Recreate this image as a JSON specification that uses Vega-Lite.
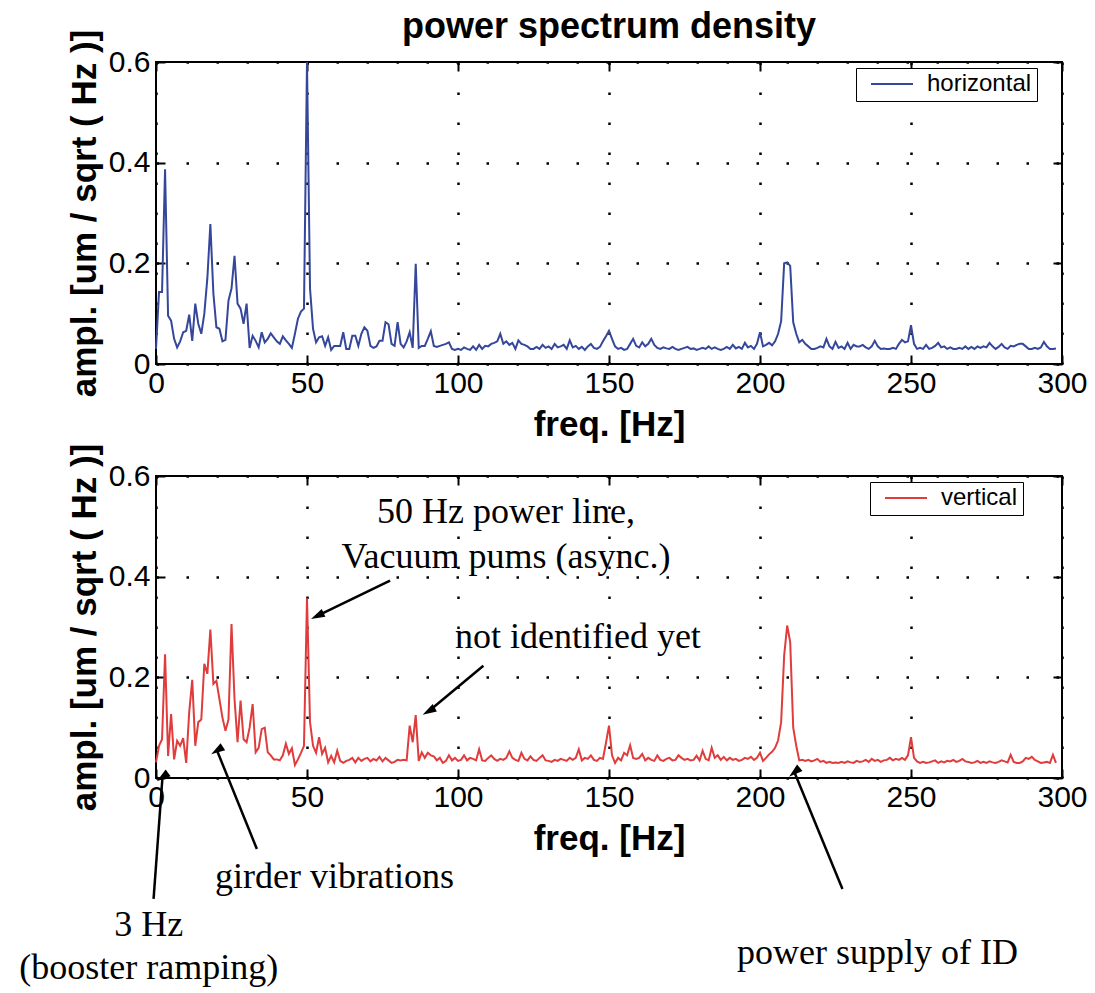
{
"$schema": "https://vega.github.io/schema/vega-lite/v6.json",
"autosize": {"type": "pad"},
"padding": {"left": 18, "top": 8, "right": 10, "bottom": 5},
"background": "white",
"config": {
 "view": {"stroke": "black", "strokeWidth": 2},
 "font": "Liberation Sans",
 "axis": {"domain": false, "tickColor": "black", "tickWidth": 2, "tickSize": -9, "grid": true, "gridColor": "black", "gridOpacity": 1, "gridDash": [2.5, 27.5], "gridWidth": 2.5, "labelFont": "Liberation Sans", "labelFontSize": 30, "labelColor": "black", "labelFlush": false, "titleFont": "Liberation Sans", "titleFontSize": 35, "titleFontWeight": "bold", "titleColor": "black"}
},
"datasets": {
"h": [
{"f":0,"a":0.03},{"f":1,"a":0.143},{"f":2,"a":0.143},{"f":3,"a":0.387},{"f":4,"a":0.096},{"f":5,"a":0.086},{"f":6,"a":0.05},{"f":7,"a":0.033},{"f":8,"a":0.045},{"f":9,"a":0.063},
{"f":10,"a":0.066},{"f":11,"a":0.098},{"f":12,"a":0.046},{"f":13,"a":0.12},{"f":14,"a":0.08},{"f":15,"a":0.06},{"f":16,"a":0.1},{"f":17,"a":0.17},{"f":18,"a":0.278},{"f":19,"a":0.14},
{"f":20,"a":0.073},{"f":21,"a":0.07},{"f":22,"a":0.045},{"f":23,"a":0.048},{"f":24,"a":0.126},{"f":25,"a":0.15},{"f":26,"a":0.215},{"f":27,"a":0.12},{"f":28,"a":0.11},{"f":29,"a":0.08},
{"f":30,"a":0.12},{"f":31,"a":0.032},{"f":32,"a":0.056},{"f":33,"a":0.046},{"f":34,"a":0.033},{"f":35,"a":0.063},{"f":36,"a":0.043},{"f":37,"a":0.05},{"f":38,"a":0.061},{"f":39,"a":0.053},
{"f":40,"a":0.045},{"f":41,"a":0.04},{"f":42,"a":0.055},{"f":43,"a":0.047},{"f":44,"a":0.04},{"f":45,"a":0.032},{"f":46,"a":0.06},{"f":47,"a":0.09},{"f":48,"a":0.104},{"f":49,"a":0.11},
{"f":50,"a":0.6},{"f":51,"a":0.15},{"f":52,"a":0.07},{"f":53,"a":0.043},{"f":54,"a":0.053},{"f":55,"a":0.055},{"f":56,"a":0.036},{"f":57,"a":0.053},{"f":58,"a":0.028},{"f":59,"a":0.036},
{"f":60,"a":0.036},{"f":61,"a":0.036},{"f":62,"a":0.063},{"f":63,"a":0.03},{"f":64,"a":0.03},{"f":65,"a":0.056},{"f":66,"a":0.056},{"f":67,"a":0.036},{"f":68,"a":0.06},{"f":69,"a":0.073},
{"f":70,"a":0.066},{"f":71,"a":0.036},{"f":72,"a":0.032},{"f":73,"a":0.035},{"f":74,"a":0.046},{"f":75,"a":0.046},{"f":76,"a":0.083},{"f":77,"a":0.079},{"f":78,"a":0.04},{"f":79,"a":0.036},
{"f":80,"a":0.083},{"f":81,"a":0.04},{"f":82,"a":0.033},{"f":83,"a":0.045},{"f":84,"a":0.063},{"f":85,"a":0.032},{"f":86,"a":0.199},{"f":87,"a":0.032},{"f":88,"a":0.036},{"f":89,"a":0.036},
{"f":90,"a":0.05},{"f":91,"a":0.065},{"f":92,"a":0.036},{"f":93,"a":0.034},{"f":94,"a":0.036},{"f":95,"a":0.038},{"f":96,"a":0.04},{"f":97,"a":0.043},{"f":98,"a":0.03},{"f":99,"a":0.028},
{"f":100,"a":0.03},{"f":101,"a":0.028},{"f":102,"a":0.033},{"f":103,"a":0.03},{"f":104,"a":0.028},{"f":105,"a":0.035},{"f":106,"a":0.028},{"f":107,"a":0.038},{"f":108,"a":0.03},{"f":109,"a":0.036},
{"f":110,"a":0.035},{"f":111,"a":0.04},{"f":112,"a":0.042},{"f":113,"a":0.045},{"f":114,"a":0.06},{"f":115,"a":0.04},{"f":116,"a":0.045},{"f":117,"a":0.038},{"f":118,"a":0.042},{"f":119,"a":0.03},
{"f":120,"a":0.047},{"f":121,"a":0.04},{"f":122,"a":0.038},{"f":123,"a":0.035},{"f":124,"a":0.03},{"f":125,"a":0.03},{"f":126,"a":0.034},{"f":127,"a":0.03},{"f":128,"a":0.038},{"f":129,"a":0.032},
{"f":130,"a":0.035},{"f":131,"a":0.03},{"f":132,"a":0.04},{"f":133,"a":0.033},{"f":134,"a":0.035},{"f":135,"a":0.038},{"f":136,"a":0.03},{"f":137,"a":0.047},{"f":138,"a":0.033},{"f":139,"a":0.036},
{"f":140,"a":0.03},{"f":141,"a":0.034},{"f":142,"a":0.028},{"f":143,"a":0.035},{"f":144,"a":0.04},{"f":145,"a":0.032},{"f":146,"a":0.03},{"f":147,"a":0.034},{"f":148,"a":0.045},{"f":149,"a":0.055},
{"f":150,"a":0.066},{"f":151,"a":0.05},{"f":152,"a":0.035},{"f":153,"a":0.03},{"f":154,"a":0.032},{"f":155,"a":0.028},{"f":156,"a":0.03},{"f":157,"a":0.04},{"f":158,"a":0.05},{"f":159,"a":0.036},
{"f":160,"a":0.033},{"f":161,"a":0.043},{"f":162,"a":0.035},{"f":163,"a":0.04},{"f":164,"a":0.05},{"f":165,"a":0.038},{"f":166,"a":0.032},{"f":167,"a":0.03},{"f":168,"a":0.033},{"f":169,"a":0.031},
{"f":170,"a":0.03},{"f":171,"a":0.034},{"f":172,"a":0.03},{"f":173,"a":0.028},{"f":174,"a":0.03},{"f":175,"a":0.032},{"f":176,"a":0.034},{"f":177,"a":0.03},{"f":178,"a":0.031},{"f":179,"a":0.028},
{"f":180,"a":0.03},{"f":181,"a":0.032},{"f":182,"a":0.03},{"f":183,"a":0.035},{"f":184,"a":0.03},{"f":185,"a":0.033},{"f":186,"a":0.03},{"f":187,"a":0.028},{"f":188,"a":0.03},{"f":189,"a":0.034},
{"f":190,"a":0.03},{"f":191,"a":0.038},{"f":192,"a":0.031},{"f":193,"a":0.034},{"f":194,"a":0.03},{"f":195,"a":0.042},{"f":196,"a":0.033},{"f":197,"a":0.036},{"f":198,"a":0.03},{"f":199,"a":0.04},
{"f":200,"a":0.063},{"f":201,"a":0.035},{"f":202,"a":0.038},{"f":203,"a":0.042},{"f":204,"a":0.037},{"f":205,"a":0.045},{"f":206,"a":0.06},{"f":207,"a":0.085},{"f":208,"a":0.2},{"f":209,"a":0.202},
{"f":210,"a":0.195},{"f":211,"a":0.083},{"f":212,"a":0.06},{"f":213,"a":0.043},{"f":214,"a":0.048},{"f":215,"a":0.04},{"f":216,"a":0.035},{"f":217,"a":0.03},{"f":218,"a":0.03},{"f":219,"a":0.032},
{"f":220,"a":0.035},{"f":221,"a":0.033},{"f":222,"a":0.05},{"f":223,"a":0.035},{"f":224,"a":0.03},{"f":225,"a":0.044},{"f":226,"a":0.032},{"f":227,"a":0.035},{"f":228,"a":0.03},{"f":229,"a":0.042},
{"f":230,"a":0.03},{"f":231,"a":0.038},{"f":232,"a":0.035},{"f":233,"a":0.035},{"f":234,"a":0.038},{"f":235,"a":0.033},{"f":236,"a":0.03},{"f":237,"a":0.035},{"f":238,"a":0.046},{"f":239,"a":0.035},
{"f":240,"a":0.03},{"f":241,"a":0.031},{"f":242,"a":0.03},{"f":243,"a":0.03},{"f":244,"a":0.032},{"f":245,"a":0.03},{"f":246,"a":0.04},{"f":247,"a":0.048},{"f":248,"a":0.043},{"f":249,"a":0.045},
{"f":250,"a":0.077},{"f":251,"a":0.04},{"f":252,"a":0.03},{"f":253,"a":0.032},{"f":254,"a":0.03},{"f":255,"a":0.038},{"f":256,"a":0.03},{"f":257,"a":0.032},{"f":258,"a":0.036},{"f":259,"a":0.042},
{"f":260,"a":0.033},{"f":261,"a":0.035},{"f":262,"a":0.03},{"f":263,"a":0.033},{"f":264,"a":0.03},{"f":265,"a":0.03},{"f":266,"a":0.032},{"f":267,"a":0.03},{"f":268,"a":0.035},{"f":269,"a":0.03},
{"f":270,"a":0.034},{"f":271,"a":0.03},{"f":272,"a":0.035},{"f":273,"a":0.032},{"f":274,"a":0.035},{"f":275,"a":0.033},{"f":276,"a":0.042},{"f":277,"a":0.035},{"f":278,"a":0.03},{"f":279,"a":0.034},
{"f":280,"a":0.04},{"f":281,"a":0.033},{"f":282,"a":0.03},{"f":283,"a":0.036},{"f":284,"a":0.035},{"f":285,"a":0.038},{"f":286,"a":0.04},{"f":287,"a":0.04},{"f":288,"a":0.035},{"f":289,"a":0.03},
{"f":290,"a":0.03},{"f":291,"a":0.032},{"f":292,"a":0.03},{"f":293,"a":0.033},{"f":294,"a":0.044},{"f":295,"a":0.035},{"f":296,"a":0.03},{"f":297,"a":0.03},{"f":298,"a":0.031}
],
"v": [
{"f":0,"a":0.031},{"f":1,"a":0.064},{"f":2,"a":0.077},{"f":3,"a":0.246},{"f":4,"a":0.044},{"f":5,"a":0.127},{"f":6,"a":0.037},{"f":7,"a":0.074},{"f":8,"a":0.064},{"f":9,"a":0.079},
{"f":10,"a":0.03},{"f":11,"a":0.131},{"f":12,"a":0.195},{"f":13,"a":0.064},{"f":14,"a":0.111},{"f":15,"a":0.116},{"f":16,"a":0.227},{"f":17,"a":0.207},{"f":18,"a":0.295},{"f":19,"a":0.187},
{"f":20,"a":0.193},{"f":21,"a":0.157},{"f":22,"a":0.12},{"f":23,"a":0.094},{"f":24,"a":0.116},{"f":25,"a":0.306},{"f":26,"a":0.157},{"f":27,"a":0.071},{"f":28,"a":0.154},{"f":29,"a":0.077},
{"f":30,"a":0.071},{"f":31,"a":0.1},{"f":32,"a":0.147},{"f":33,"a":0.051},{"f":34,"a":0.06},{"f":35,"a":0.097},{"f":36,"a":0.1},{"f":37,"a":0.051},{"f":38,"a":0.045},{"f":39,"a":0.037},
{"f":40,"a":0.037},{"f":41,"a":0.035},{"f":42,"a":0.045},{"f":43,"a":0.068},{"f":44,"a":0.048},{"f":45,"a":0.059},{"f":46,"a":0.026},{"f":47,"a":0.037},{"f":48,"a":0.05},{"f":49,"a":0.064},
{"f":50,"a":0.357},{"f":51,"a":0.111},{"f":52,"a":0.064},{"f":53,"a":0.05},{"f":54,"a":0.081},{"f":55,"a":0.048},{"f":56,"a":0.06},{"f":57,"a":0.031},{"f":58,"a":0.044},{"f":59,"a":0.031},
{"f":60,"a":0.054},{"f":61,"a":0.034},{"f":62,"a":0.03},{"f":63,"a":0.034},{"f":64,"a":0.036},{"f":65,"a":0.04},{"f":66,"a":0.031},{"f":67,"a":0.04},{"f":68,"a":0.034},{"f":69,"a":0.038},
{"f":70,"a":0.04},{"f":71,"a":0.033},{"f":72,"a":0.038},{"f":73,"a":0.035},{"f":74,"a":0.042},{"f":75,"a":0.033},{"f":76,"a":0.04},{"f":77,"a":0.035},{"f":78,"a":0.03},{"f":79,"a":0.032},
{"f":80,"a":0.036},{"f":81,"a":0.035},{"f":82,"a":0.036},{"f":83,"a":0.035},{"f":84,"a":0.104},{"f":85,"a":0.071},{"f":86,"a":0.125},{"f":87,"a":0.034},{"f":88,"a":0.051},{"f":89,"a":0.04},
{"f":90,"a":0.05},{"f":91,"a":0.045},{"f":92,"a":0.043},{"f":93,"a":0.035},{"f":94,"a":0.04},{"f":95,"a":0.03},{"f":96,"a":0.034},{"f":97,"a":0.045},{"f":98,"a":0.035},{"f":99,"a":0.04},
{"f":100,"a":0.034},{"f":101,"a":0.036},{"f":102,"a":0.045},{"f":103,"a":0.035},{"f":104,"a":0.04},{"f":105,"a":0.038},{"f":106,"a":0.035},{"f":107,"a":0.057},{"f":108,"a":0.035},{"f":109,"a":0.034},
{"f":110,"a":0.04},{"f":111,"a":0.045},{"f":112,"a":0.038},{"f":113,"a":0.034},{"f":114,"a":0.038},{"f":115,"a":0.036},{"f":116,"a":0.04},{"f":117,"a":0.053},{"f":118,"a":0.04},{"f":119,"a":0.036},
{"f":120,"a":0.034},{"f":121,"a":0.05},{"f":122,"a":0.038},{"f":123,"a":0.035},{"f":124,"a":0.043},{"f":125,"a":0.036},{"f":126,"a":0.034},{"f":127,"a":0.04},{"f":128,"a":0.045},{"f":129,"a":0.035},
{"f":130,"a":0.034},{"f":131,"a":0.032},{"f":132,"a":0.036},{"f":133,"a":0.034},{"f":134,"a":0.038},{"f":135,"a":0.036},{"f":136,"a":0.034},{"f":137,"a":0.04},{"f":138,"a":0.036},{"f":139,"a":0.04},
{"f":140,"a":0.057},{"f":141,"a":0.035},{"f":142,"a":0.04},{"f":143,"a":0.038},{"f":144,"a":0.045},{"f":145,"a":0.036},{"f":146,"a":0.034},{"f":147,"a":0.04},{"f":148,"a":0.038},{"f":149,"a":0.07},
{"f":150,"a":0.104},{"f":151,"a":0.045},{"f":152,"a":0.03},{"f":153,"a":0.04},{"f":154,"a":0.035},{"f":155,"a":0.05},{"f":156,"a":0.045},{"f":157,"a":0.065},{"f":158,"a":0.04},{"f":159,"a":0.038},
{"f":160,"a":0.04},{"f":161,"a":0.048},{"f":162,"a":0.035},{"f":163,"a":0.04},{"f":164,"a":0.036},{"f":165,"a":0.034},{"f":166,"a":0.045},{"f":167,"a":0.036},{"f":168,"a":0.034},{"f":169,"a":0.038},
{"f":170,"a":0.04},{"f":171,"a":0.035},{"f":172,"a":0.036},{"f":173,"a":0.045},{"f":174,"a":0.04},{"f":175,"a":0.036},{"f":176,"a":0.038},{"f":177,"a":0.035},{"f":178,"a":0.036},{"f":179,"a":0.044},
{"f":180,"a":0.035},{"f":181,"a":0.054},{"f":182,"a":0.038},{"f":183,"a":0.035},{"f":184,"a":0.06},{"f":185,"a":0.04},{"f":186,"a":0.045},{"f":187,"a":0.036},{"f":188,"a":0.042},{"f":189,"a":0.035},
{"f":190,"a":0.04},{"f":191,"a":0.036},{"f":192,"a":0.038},{"f":193,"a":0.034},{"f":194,"a":0.036},{"f":195,"a":0.04},{"f":196,"a":0.038},{"f":197,"a":0.042},{"f":198,"a":0.036},{"f":199,"a":0.04},
{"f":200,"a":0.05},{"f":201,"a":0.034},{"f":202,"a":0.04},{"f":203,"a":0.047},{"f":204,"a":0.052},{"f":205,"a":0.06},{"f":206,"a":0.075},{"f":207,"a":0.111},{"f":208,"a":0.243},{"f":209,"a":0.303},
{"f":210,"a":0.27},{"f":211,"a":0.1},{"f":212,"a":0.064},{"f":213,"a":0.035},{"f":214,"a":0.036},{"f":215,"a":0.034},{"f":216,"a":0.036},{"f":217,"a":0.033},{"f":218,"a":0.035},{"f":219,"a":0.038},
{"f":220,"a":0.032},{"f":221,"a":0.034},{"f":222,"a":0.03},{"f":223,"a":0.032},{"f":224,"a":0.03},{"f":225,"a":0.031},{"f":226,"a":0.03},{"f":227,"a":0.032},{"f":228,"a":0.03},{"f":229,"a":0.033},
{"f":230,"a":0.031},{"f":231,"a":0.03},{"f":232,"a":0.034},{"f":233,"a":0.032},{"f":234,"a":0.033},{"f":235,"a":0.036},{"f":236,"a":0.032},{"f":237,"a":0.038},{"f":238,"a":0.034},{"f":239,"a":0.036},
{"f":240,"a":0.032},{"f":241,"a":0.035},{"f":242,"a":0.036},{"f":243,"a":0.04},{"f":244,"a":0.035},{"f":245,"a":0.038},{"f":246,"a":0.036},{"f":247,"a":0.04},{"f":248,"a":0.036},{"f":249,"a":0.045},
{"f":250,"a":0.081},{"f":251,"a":0.04},{"f":252,"a":0.033},{"f":253,"a":0.03},{"f":254,"a":0.032},{"f":255,"a":0.03},{"f":256,"a":0.031},{"f":257,"a":0.033},{"f":258,"a":0.035},{"f":259,"a":0.03},
{"f":260,"a":0.033},{"f":261,"a":0.031},{"f":262,"a":0.034},{"f":263,"a":0.033},{"f":264,"a":0.036},{"f":265,"a":0.032},{"f":266,"a":0.034},{"f":267,"a":0.038},{"f":268,"a":0.033},{"f":269,"a":0.032},
{"f":270,"a":0.03},{"f":271,"a":0.031},{"f":272,"a":0.034},{"f":273,"a":0.03},{"f":274,"a":0.032},{"f":275,"a":0.03},{"f":276,"a":0.033},{"f":277,"a":0.031},{"f":278,"a":0.03},{"f":279,"a":0.032},
{"f":280,"a":0.035},{"f":281,"a":0.033},{"f":282,"a":0.031},{"f":283,"a":0.046},{"f":284,"a":0.032},{"f":285,"a":0.03},{"f":286,"a":0.03},{"f":287,"a":0.033},{"f":288,"a":0.04},{"f":289,"a":0.038},
{"f":290,"a":0.042},{"f":291,"a":0.036},{"f":292,"a":0.033},{"f":293,"a":0.03},{"f":294,"a":0.031},{"f":295,"a":0.032},{"f":296,"a":0.03},{"f":297,"a":0.046},{"f":298,"a":0.03}
],
"notes": [
{"f":115.9,"a":0.506,"t":"50 Hz power line,"},
{"f":115.9,"a":0.417,"t":"Vacuum pums (async.)"},
{"f":139.7,"a":0.258,"t":"not identified yet"},
{"f":59.1,"a":-0.218,"t":"girder vibrations"},
{"f":-2.4,"a":-0.314,"t":"3 Hz"},
{"f":-2.4,"a":-0.400,"t":"(booster ramping)"},
{"f":238.9,"a":-0.370,"t":"power supply of ID"}
],
"arrows": [
{"n":"p50","f1":77.5,"a1":0.392,"f2":53.4,"a2":0.322},
{"n":"nid","f1":108.4,"a1":0.2231,"f2":90.3,"a2":0.1327},
{"n":"gird","f1":33.4,"a1":-0.141,"f2":20.2,"a2":0.0546},
{"n":"hz3","f1":-0.8,"a1":-0.240,"f2":2.15,"a2":0.002},
{"n":"psid","f1":227.3,"a1":-0.2205,"f2":211.4,"a2":0.0115}
]
},
"vconcat": [
{
 "width": 906, "height": 302,
 "title": {"text": "power spectrum density", "fontSize": 36, "fontWeight": "bold", "font": "Liberation Sans", "anchor": "middle", "color": "black", "offset": -17},
 "layer": [
  {"data": {"name": "h"}, "mark": {"type": "line", "strokeWidth": 2},
   "encoding": {
    "x": {"field": "f", "type": "quantitative", "scale": {"domain": [0, 300], "nice": false}, "axis": {"title": "freq. [Hz]", "values": [0, 50, 100, 150, 200, 250, 300], "orient": "bottom", "labelPadding": 13, "titlePadding": 9}},
    "y": {"field": "a", "type": "quantitative", "scale": {"domain": [0, 0.6], "nice": false, "zero": false}, "axis": {"title": "ampl. [um / sqrt ( Hz )]", "values": [0, 0.2, 0.4, 0.6], "format": "~g", "orient": "left", "labelPadding": 15, "titlePadding": 6}},
    "color": {"datum": "horizontal", "type": "nominal", "scale": {"range": ["#34479a"]}, "legend": {"title": null, "orient": "none", "legendX": 700, "legendY": 6, "strokeColor": "black", "fillColor": "white", "padding": 5, "clipHeight": 22, "symbolType": "stroke", "symbolSize": 1764, "symbolStrokeWidth": 2, "labelFontSize": 24, "labelFont": "Liberation Sans", "labelOffset": 13, "labelColor": "black", "symbolOffset": 9}}
   }},
  {"data": {"name": "h"}, "mark": {"type": "line", "opacity": 0},
   "encoding": {
    "x": {"field": "f", "type": "quantitative", "axis": {"orient": "top", "labels": false, "grid": false, "title": null, "values": [0, 50, 100, 150, 200, 250, 300]}},
    "y": {"field": "a", "type": "quantitative", "axis": {"orient": "right", "labels": false, "grid": false, "title": null, "values": [0, 0.2, 0.4, 0.6]}}
   }}
 ],
 "resolve": {"axis": {"x": "independent", "y": "independent"}}
},
{
 "width": 906, "height": 302,
 "layer": [
  {"data": {"name": "v"}, "mark": {"type": "line", "strokeWidth": 2},
   "encoding": {
    "x": {"field": "f", "type": "quantitative", "scale": {"domain": [0, 300], "nice": false}, "axis": {"title": "freq. [Hz]", "values": [0, 50, 100, 150, 200, 250, 300], "orient": "bottom", "labelPadding": 13, "titlePadding": 9}},
    "y": {"field": "a", "type": "quantitative", "scale": {"domain": [0, 0.6], "nice": false, "zero": false}, "axis": {"title": "ampl. [um / sqrt ( Hz )]", "values": [0, 0.2, 0.4, 0.6], "format": "~g", "orient": "left", "labelPadding": 15, "titlePadding": 6}},
    "color": {"datum": "vertical", "type": "nominal", "scale": {"range": ["#e03c3c"]}, "legend": {"title": null, "orient": "none", "legendX": 714, "legendY": 6, "strokeColor": "black", "fillColor": "white", "padding": 5, "clipHeight": 22, "symbolType": "stroke", "symbolSize": 1764, "symbolStrokeWidth": 2, "labelFontSize": 24, "labelFont": "Liberation Sans", "labelOffset": 13, "labelColor": "black", "symbolOffset": 9}}
   }},
  {"data": {"name": "v"}, "mark": {"type": "line", "opacity": 0},
   "encoding": {
    "x": {"field": "f", "type": "quantitative", "axis": {"orient": "top", "labels": false, "grid": false, "title": null, "values": [0, 50, 100, 150, 200, 250, 300]}},
    "y": {"field": "a", "type": "quantitative", "axis": {"orient": "right", "labels": false, "grid": false, "title": null, "values": [0, 0.2, 0.4, 0.6]}}
   }},
  {"data": {"name": "arrows"}, "mark": {"type": "rule", "color": "black", "strokeWidth": 2.5},
   "encoding": {
    "x": {"field": "f1", "type": "quantitative", "axis": null},
    "y": {"field": "a1", "type": "quantitative", "axis": null},
    "x2": {"field": "f2"},
    "y2": {"field": "a2"}
   }},
  {"data": {"name": "arrows"}, "mark": {"type": "point", "filled": true, "color": "black", "opacity": 1, "size": 196, "shape": "M0,-1L-0.6,1L0.6,1Z"},
   "encoding": {
    "x": {"field": "f2", "type": "quantitative", "axis": null},
    "y": {"field": "a2", "type": "quantitative", "axis": null},
    "angle": {"field": "n", "type": "nominal", "scale": {"domain": ["p50", "nid", "gird", "hz3", "psid"], "range": [244, 230, 338, 4, 338]}, "legend": null}
   }},
  {"data": {"name": "notes"}, "mark": {"type": "text", "font": "Liberation Serif", "fontSize": 36, "align": "center", "baseline": "alphabetic", "color": "black"},
   "encoding": {
    "x": {"field": "f", "type": "quantitative", "axis": null},
    "y": {"field": "a", "type": "quantitative", "axis": null},
    "text": {"field": "t"}
   }}
 ],
 "resolve": {"axis": {"x": "independent", "y": "independent"}}
}
],
"spacing": 112,
"bounds": "flush",
"resolve": {"scale": {"color": "independent"}}
}
